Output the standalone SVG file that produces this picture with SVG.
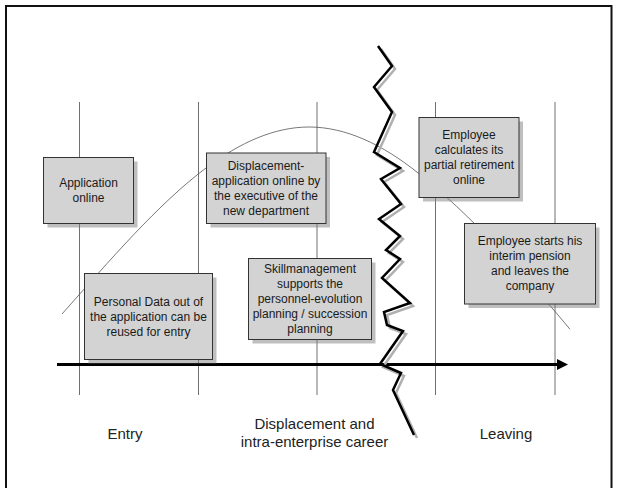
<svg xmlns="http://www.w3.org/2000/svg" width="617" height="488" viewBox="0 0 617 488">
<style>
.vl{stroke:#707070;stroke-width:1;fill:none}
.box{fill:#d3d3d3;stroke:#333;stroke-width:1}
.sh{fill:#808080;opacity:0.5}
.t{font-family:"Liberation Sans",Arial,sans-serif;font-size:12px;fill:#1a1a1a;text-anchor:middle}
.lbl{font-family:"Liberation Sans",Arial,sans-serif;font-size:15px;fill:#222;text-anchor:middle}
.zz{fill:none;stroke-width:2.5;stroke-linejoin:miter;stroke-miterlimit:10}
</style>
<defs>
<marker id="arr" markerWidth="12" markerHeight="12" refX="0" refY="0" viewBox="-1 -6 12 12" orient="auto" markerUnits="userSpaceOnUse">
<path d="M0,-5.5 L11,0 L0,5.5 Z" fill="#000"/>
</marker>
</defs>
<rect x="0" y="0" width="617" height="488" fill="#fff"/>
<rect x="6" y="6" width="605.5" height="500" fill="none" stroke="#111" stroke-width="2"/>
<g id="grid">
<line class="vl" x1="79.5" y1="102" x2="79.5" y2="395"/>
<line class="vl" x1="198.5" y1="102" x2="198.5" y2="395"/>
<line class="vl" x1="317" y1="102" x2="317" y2="395"/>
<line class="vl" x1="435.5" y1="102" x2="435.5" y2="395"/>
<line class="vl" x1="555" y1="102" x2="555" y2="395"/>
</g>
<g id="connectors">
<path d="M62,314 C110,260.2 158,204 206,168 C240.3,142.3 274.7,127 309,127 C345.5,127 382,144.1 418.5,173.3 C469,213.7 519.5,268.7 570,329.3" fill="none" stroke="#555" stroke-width="0.8"/>
<line x1="57" y1="364.5" x2="557" y2="364.5" stroke="#000" stroke-width="3" marker-end="url(#arr)"/>
</g>
<g id="node-application">
<rect class="sh" x="47.5" y="161.5" width="90" height="66"/>
<rect class="box" x="43.5" y="157.5" width="90" height="66"/>
<text class="t" x="88.5" y="187">Application</text>
<text class="t" x="88.5" y="201.5">online</text>
</g>
<g id="node-displacement">
<rect class="sh" x="210.5" y="157" width="119.5" height="70.5"/>
<rect class="box" x="206.5" y="153" width="119.5" height="70.5"/>
<text class="t" x="266" y="169.5">Displacement-</text>
<text class="t" x="266" y="184.5">application online by</text>
<text class="t" x="266" y="199.5">the executive of the</text>
<text class="t" x="266" y="214.5">new department</text>
</g>
<g id="node-personal">
<rect class="sh" x="88.5" y="277.5" width="128" height="86"/>
<rect class="box" x="84.5" y="273.5" width="128" height="86"/>
<text class="t" x="148.5" y="305.5">Personal Data out of</text>
<text class="t" x="148.5" y="320.5">the application can be</text>
<text class="t" x="148.5" y="335.5">reused for entry</text>
</g>
<g id="node-skill">
<rect class="sh" x="252.5" y="262.5" width="123" height="81"/>
<rect class="box" x="248.5" y="258.5" width="123" height="81"/>
<text class="t" x="310" y="273">Skillmanagement</text>
<text class="t" x="310" y="288">supports the</text>
<text class="t" x="310" y="303">personnel-evolution</text>
<text class="t" x="310" y="318">planning / succession</text>
<text class="t" x="310" y="333">planning</text>
</g>
<g id="node-calculates">
<rect class="sh" x="423" y="121.5" width="100" height="80"/>
<rect class="box" x="419" y="117.5" width="100" height="80"/>
<text class="t" x="469" y="139">Employee</text>
<text class="t" x="469" y="154">calculates its</text>
<text class="t" x="469" y="169">partial retirement</text>
<text class="t" x="469" y="184">online</text>
</g>
<g id="node-leaves">
<rect class="sh" x="468.5" y="227.5" width="131" height="80.5"/>
<rect class="box" x="464.5" y="223.5" width="131" height="80.5"/>
<text class="t" x="530" y="245">Employee starts his</text>
<text class="t" x="530" y="260">interim pension</text>
<text class="t" x="530" y="275">and leaves the</text>
<text class="t" x="530" y="290">company</text>
</g>
<g id="break">
<polyline class="zz" stroke="#b0b0b0" transform="translate(3,3)" points="378,46 392,66 374,87 392,112 374,152 400,168 381,179 401,204 379,219 400,236 386,250 400,259 382,278 410,303 384,312 387,325 403,331 380,364 401,373 393,390 414,435"/>
<polyline class="zz" stroke="#000" points="378,46 392,66 374,87 392,112 374,152 400,168 381,179 401,204 379,219 400,236 386,250 400,259 382,278 410,303 384,312 387,325 403,331 380,364 401,373 393,390 414,435"/>
</g>
<g id="labels">
<text class="lbl" x="125" y="438.5">Entry</text>
<text class="lbl" x="314.5" y="429">Displacement and</text>
<text class="lbl" x="314.5" y="447">intra-enterprise career</text>
<text class="lbl" x="506" y="438.5">Leaving</text>
</g>
</svg>
